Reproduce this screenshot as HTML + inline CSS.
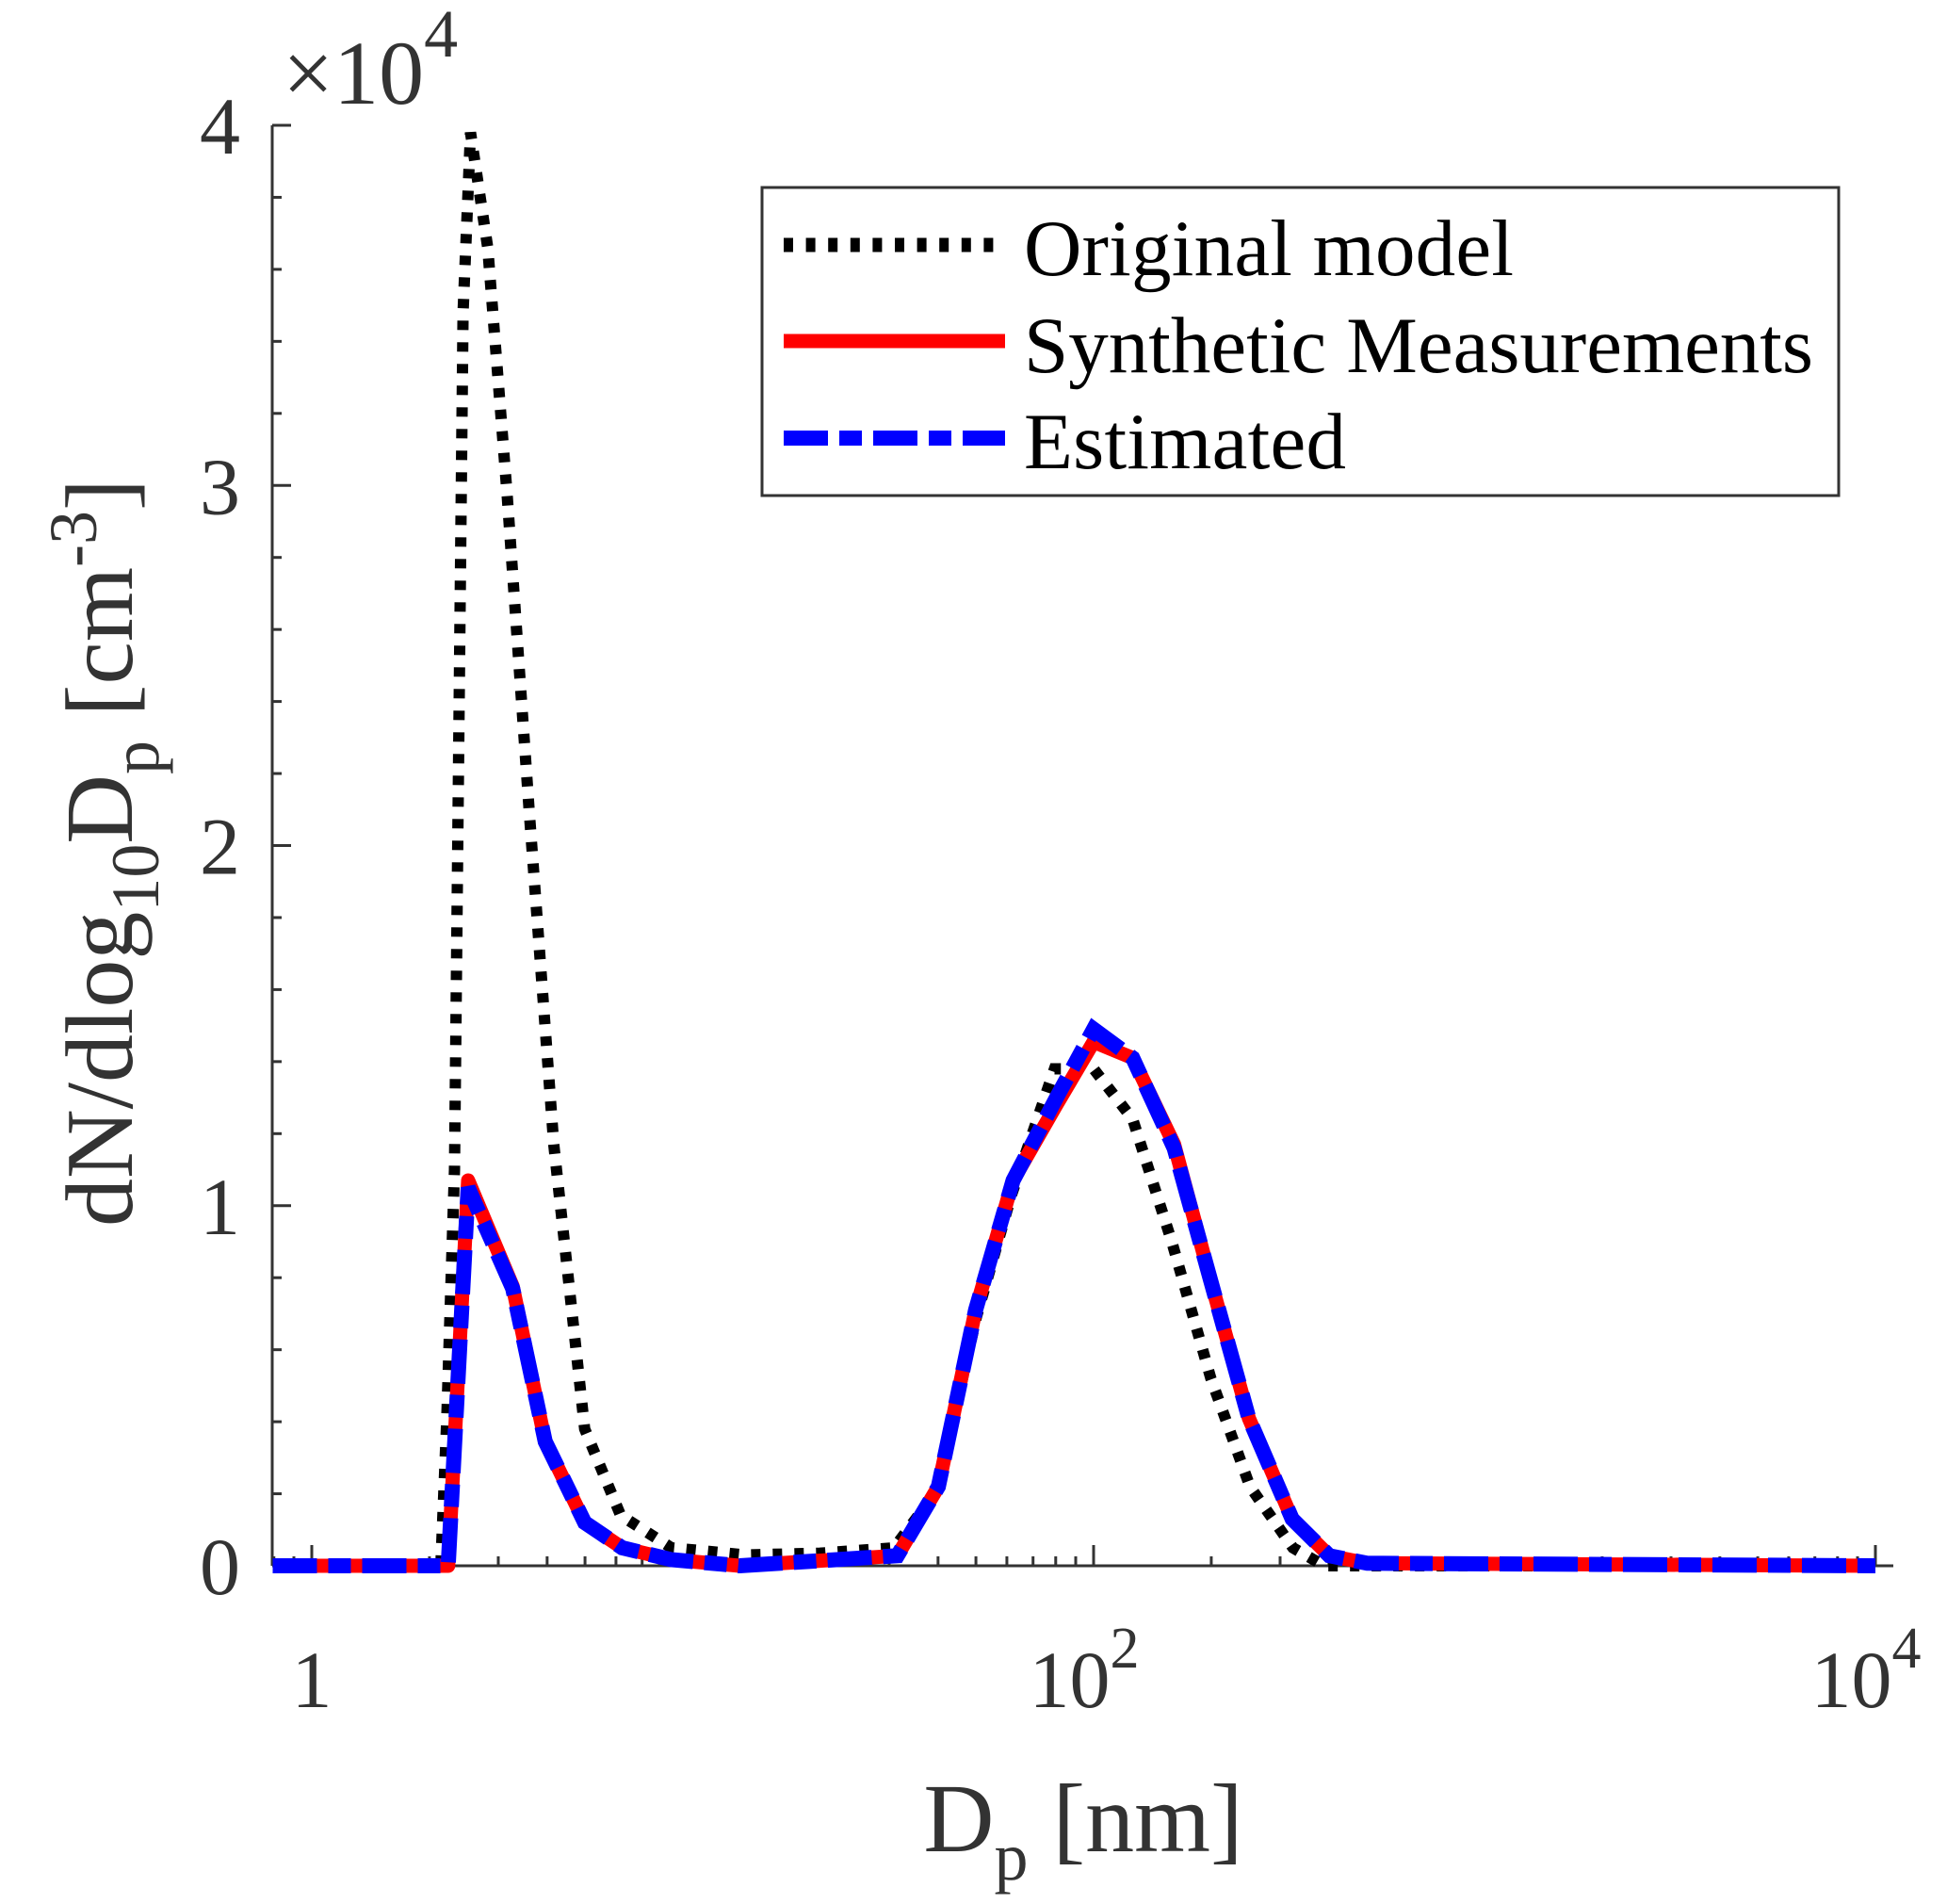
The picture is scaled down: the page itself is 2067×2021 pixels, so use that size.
<!DOCTYPE html>
<html><head><meta charset="utf-8"><style>
html,body{margin:0;padding:0;background:#fff;}
svg{display:block;font-family:"Liberation Serif",serif;}
</style></head><body>
<svg id="chart" width="2067" height="2021" viewBox="0 0 2067 2021" xmlns="http://www.w3.org/2000/svg">
<g id="axes"></g>
<g id="series"></g>
<g>
  <rect x="809" y="199" width="1143" height="327" fill="#fff" stroke="#333" stroke-width="3"/>
  <line x1="832" y1="260" x2="1067" y2="260" stroke="#000" stroke-width="15" stroke-dasharray="10 13.6"/>
  <text x="1087" y="292" font-size="85" fill="#000" textLength="520">Original model</text>
  <line x1="832" y1="362" x2="1067" y2="362" stroke="#f00" stroke-width="15"/>
  <text x="1087" y="395" font-size="85" fill="#000" textLength="838">Synthetic Measurements</text>
  <line x1="832" y1="465" x2="1067" y2="465" stroke="#00f" stroke-width="16" stroke-dasharray="47 12 24 12"/>
  <text x="1087" y="497" font-size="85" fill="#000" textLength="342">Estimated</text>
</g>
<text x="300" y="110" font-size="96" fill="#333">×10<tspan font-size="72" dy="-50">4</tspan></text>
<text x="1150" y="1965" font-size="104" fill="#333" text-anchor="middle">D<tspan font-size="72" dy="30">p</tspan><tspan dy="-30"> [nm]</tspan></text>
<text transform="translate(140,905) rotate(-90)" font-size="102" fill="#333" text-anchor="middle">dN/dlog<tspan font-size="72" dy="28">10</tspan><tspan dy="-28">D</tspan><tspan font-size="72" dy="28">p</tspan><tspan dy="-28"> [cm</tspan><tspan font-size="72" dy="-38">-3</tspan><tspan dy="38">]</tspan></text>
</svg>
<script>
const xTickLabels = ["1", "10", "10"];
const xTickExps = [0, 2, 4];
const yTicks = [0, 1, 2, 3, 4];
const origLogD = [0, 0.33, 0.345, 0.365, 0.387, 0.406, 0.45, 0.5, 0.556, 0.619, 0.698, 0.79, 0.92, 1.11, 1.3, 1.49, 1.6, 1.7, 1.79, 1.9, 2.0, 2.1, 2.2, 2.3, 2.4, 2.51, 2.59, 4.0];
const origVal = [0, 0, 0.4, 1.1, 3.48, 3.98, 3.66, 2.97, 2.1, 1.17, 0.38, 0.14, 0.05, 0.03, 0.035, 0.05, 0.21, 0.69, 1.03, 1.38, 1.38, 1.24, 0.9, 0.52, 0.22, 0.05, 0, 0];
const synLogD = [-0.1, 0.349, 0.4, 0.514, 0.597, 0.698, 0.794, 0.92, 1.095, 1.3, 1.498, 1.603, 1.698, 1.794, 1.905, 2.0, 2.1, 2.206, 2.3, 2.397, 2.508, 2.603, 2.7, 4.0];
const synVal = [0, 0, 1.07, 0.776, 0.345, 0.12, 0.05, 0.017, 0, 0.014, 0.028, 0.22, 0.71, 1.07, 1.28, 1.455, 1.41, 1.17, 0.79, 0.41, 0.13, 0.028, 0.007, 0];
const estVal = [0, 0, 1.05, 0.77, 0.345, 0.12, 0.05, 0.017, 0, 0.014, 0.028, 0.22, 0.71, 1.07, 1.3, 1.49, 1.41, 1.16, 0.79, 0.41, 0.13, 0.028, 0.007, 0];

const NS = "http://www.w3.org/2000/svg";
const X0 = 331, PXDEC = 415, Y0 = 1662, PXUNIT = 382.25;
const AX_L = 289, AX_R = 2010, AX_T = 133;
function xs(l){ return X0 + l * PXDEC; }
function ys(v){ return Y0 - v * PXUNIT; }
function mk(tag, attrs, parent){ const e = document.createElementNS(NS, tag); for (const k in attrs) e.setAttribute(k, attrs[k]); parent.appendChild(e); return e; }
const axes = document.getElementById('axes');
const series = document.getElementById('series');

const yAxis = mk('line', {x1:AX_L, y1:AX_T, x2:AX_L, y2:Y0, stroke:'#333', 'stroke-width':3}, axes);


const xAxis = mk('line', {x1:AX_L, y1:Y0, x2:AX_R, y2:Y0, stroke:'#333', 'stroke-width':3}, axes);



for (let i = 0; i <= 20; i++) {
  const v = i * 0.2;
  const major = i % 5 === 0;
  const t = mk('line', {x1:AX_L, y1:ys(v), x2:AX_L + (major ? 20 : 10), y2:ys(v), stroke:'#333', 'stroke-width':3}, axes);
  
  
}
yTicks.forEach(v => {
  const t = mk('text', {x:255, y:ys(v) + 30, 'font-size':86, fill:'#333', 'text-anchor':'end'}, axes);
  t.textContent = String(v);
  
  
});
for (let d = -1; d <= 4; d++) {
  for (let m = 1; m <= 9; m++) {
    const l = d + Math.log10(m);
    const x = xs(l);
    if (x < AX_L || x > AX_R) continue;
    const major = m === 1 && d % 2 === 0;
    const t = mk('line', {x1:x, y1:Y0, x2:x, y2:Y0 - (major ? 22 : 10), stroke:'#333', 'stroke-width':3}, axes);
    
    
  }
}
xTickExps.forEach((e, i) => {
  const t = mk('text', {x:xs(e) + (e === 0 ? 0 : -10), y:1812, 'font-size':86, fill:'#333', 'text-anchor':'middle'}, axes);
  t.textContent = xTickLabels[i];
  if (e !== 0) { const s = mk('tspan', {'font-size':62, dy:-42}, t); s.textContent = String(e); }
  
  
});

function pts(ls, vs){ return ls.map((l, i) => xs(Math.max(l, -0.1)).toFixed(1) + ',' + ys(vs[i]).toFixed(1)).join(' '); }
const pOrig = mk('polyline', {points:pts(origLogD, origVal), fill:'none', stroke:'#000', 'stroke-width':12, 'stroke-dasharray':'10 13'}, series);


const pSyn = mk('polyline', {points:pts(synLogD, synVal), fill:'none', stroke:'#f00', 'stroke-width':15, 'stroke-linejoin':'round'}, series);


const pEst = mk('polyline', {points:pts(synLogD, estVal), fill:'none', stroke:'#00f', 'stroke-width':16, 'stroke-dasharray':'47 12 24 12'}, series);


</script>
</body></html>
